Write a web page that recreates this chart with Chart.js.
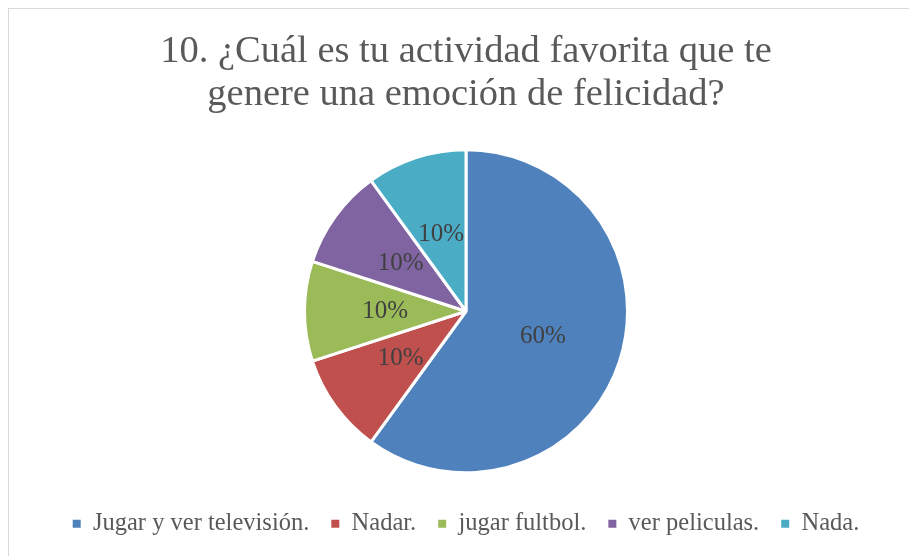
<!DOCTYPE html>
<html>
<head>
<meta charset="utf-8">
<script src="https://cdn.jsdelivr.net/npm/chart.js@4/dist/chart.umd.min.js"></script>
<style>
  html, body { margin: 0; padding: 0; background: #ffffff; }
  body { width: 909px; height: 556px; position: relative; overflow: hidden; }
  #frame { position: absolute; left: 8px; top: 8px; width: 1000px; height: 1000px;
           border-left: 1px solid #d9d9d9; border-top: 1px solid #d9d9d9; }
  #c { position: absolute; left: 0; top: 0; }
</style>
</head>
<body>
<div id="frame"></div>
<canvas id="c" width="909" height="556"></canvas>
<script>
const titleLines = ['10. ¿Cuál es tu actividad favorita que te', 'genere una emoción de felicidad?'];
const categories = ['Jugar y ver televisión.', 'Nadar.', 'jugar fultbol.', 'ver peliculas.', 'Nada.'];
const values = [60, 10, 10, 10, 10];

const sliceColors = ['#4F81BD', '#C0504D', '#9BBB59', '#8064A2', '#4BACC6'];
const FONT = '"Liberation Serif", "DejaVu Serif", serif';

const pctLabels = {
  id: 'pctLabels',
  afterDatasetsDraw(chart) {
    const ctx = chart.ctx;
    const meta = chart.getDatasetMeta(0);
    const data = chart.data.datasets[0].data;
    const total = data.reduce((a, b) => a + b, 0);
    ctx.save();
    ctx.font = '25px ' + FONT;
    ctx.fillStyle = '#404040';
    ctx.textAlign = 'center';
    ctx.textBaseline = 'middle';
    meta.data.forEach((arc, i) => {
      const p = arc.tooltipPosition();
      const pct = Math.round(data[i] / total * 100) + '%';
      ctx.fillText(pct, p.x, p.y);
    });
    ctx.restore();
  }
};

new Chart(document.getElementById('c'), {
  type: 'pie',
  data: {
    labels: categories,
    datasets: [{
      data: values,
      backgroundColor: sliceColors,
      borderColor: '#ffffff',
      borderWidth: 3
    }]
  },
  options: {
    responsive: false,
    animation: false,
    radius: 161.5,
    layout: { padding: { left: 23, right: 0, top: 0, bottom: 10 } },
    plugins: {
      tooltip: { enabled: false },
      title: {
        display: true,
        text: titleLines,
        color: '#595959',
        font: { family: FONT, size: 38.5, weight: 'normal', lineHeight: 43 / 38.5 },
        padding: { top: 30, bottom: 17 }
      },
      legend: {
        display: true,
        position: 'bottom',
        labels: {
          color: '#595959',
          font: { family: FONT, size: 24.5 },
          boxWidth: 8,
          boxHeight: 8,
          padding: 22,
          generateLabels(chart) {
            const items = Chart.overrides.pie.plugins.legend.labels.generateLabels(chart);
            return items.map(it => Object.assign(it, { lineWidth: 0, strokeStyle: it.fillStyle }));
          }
        }
      }
    }
  },
  plugins: [pctLabels]
});
</script>
</body>
</html>
